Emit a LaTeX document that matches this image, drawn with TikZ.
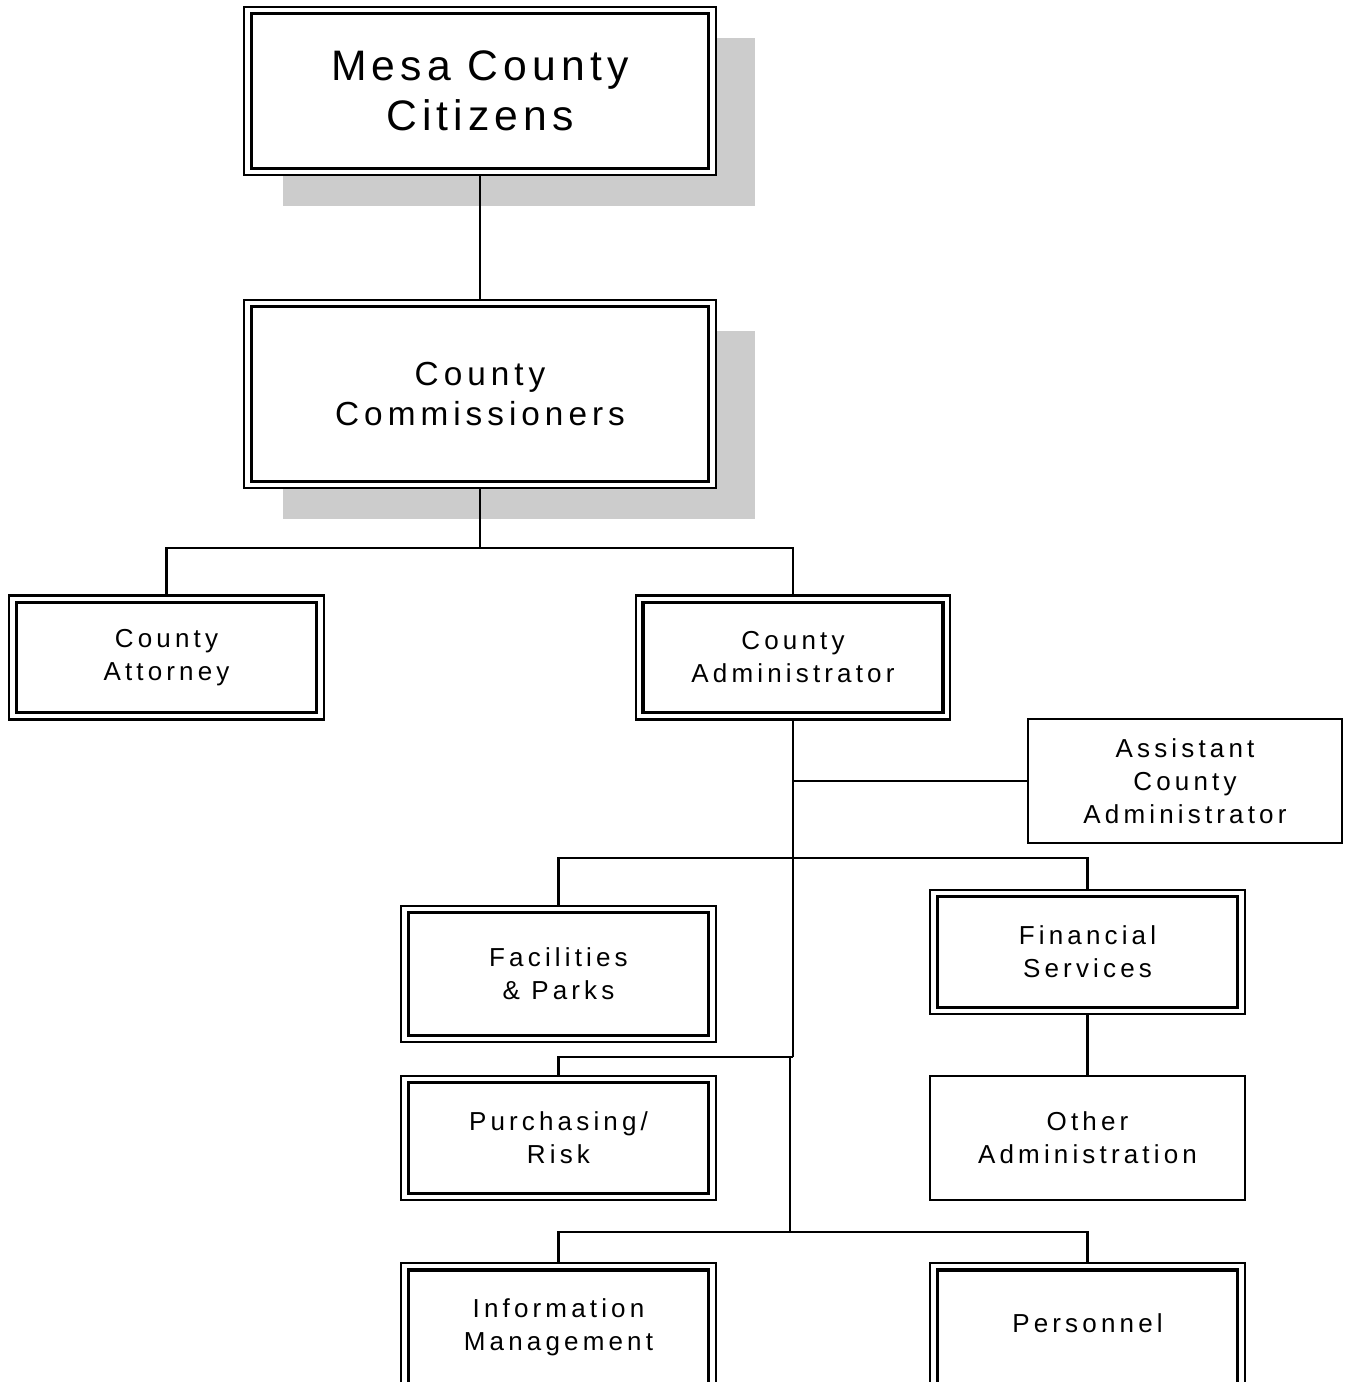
\documentclass[tikz,border=0pt]{standalone}
\usepackage{fontspec}
\newfontfamily\orgfontS[LetterSpace=16]{Liberation Sans}
\newfontfamily\orgfontM[LetterSpace=15]{Liberation Sans}
\newfontfamily\orgfontL[LetterSpace=12]{Liberation Sans}
\usetikzlibrary{shadows}
\begin{document}
\begin{tikzpicture}[x=0.75pt,y=-0.75pt,
  conn/.style={line width=2.1pt},
  basebox/.style={draw, fill=white, line width=1.6pt, inner sep=0pt, align=center},
  dbox/.style={basebox,
    path picture={\draw[line width=2.3pt]
      ([xshift=5.5pt,yshift=-5.2pt]path picture bounding box.north west) rectangle
      ([xshift=-5.5pt,yshift=5.2pt]path picture bounding box.south east);}},
  sbox/.style={basebox},
  smallbox/.style={minimum width=236pt, minimum height=93pt,
    font=\orgfontS\fontsize{19.5pt}{24.75pt}\selectfont},
  tallbox/.style={smallbox, minimum height=120pt, anchor=north},
  shade/.style={drop shadow={shadow xshift=29pt, shadow yshift=-23pt, fill=black!20, opacity=1}},
]
\useasboundingbox (0,0) rectangle (1348,1382);

% top boxes
\node[dbox, shade, minimum width=354pt, minimum height=126pt,
  font=\orgfontL\fontsize{32pt}{37.5pt}\selectfont] (cit) at (480,91) {Mesa County\\Citizens};
\node[dbox, shade, minimum width=354pt, minimum height=141pt,
  font=\orgfontM\fontsize{25pt}{30pt}\selectfont] (com) at (480,394) {County\\Commissioners};

\node[dbox, smallbox] (att) at (166.5,657.5) {County\\Attorney};
\node[dbox, smallbox] (adm) at (793,657.5) {County\\Administrator};
\node[sbox, smallbox] (asst) at (1185,781) {Assistant\\County\\Administrator};
\node[dbox, smallbox, minimum height=102pt] (fac) at (558.5,974) {Facilities\\\& Parks};
\node[dbox, smallbox] (fin) at (1087.5,952) {Financial\\Services};
\node[dbox, smallbox] (pur) at (558.5,1138) {Purchasing/\\Risk};
\node[sbox, smallbox] (oth) at (1087.5,1138) {Other\\Administration};
\node[dbox, tallbox] (inf) at (558.5,1262) {Information\\Management\\[3.5pt]\mbox{}};
\node[dbox, tallbox] (per) at (1087.5,1262) {Personnel\\[5pt]\mbox{}};

% junctions
\coordinate (j1) at (480,548);
\coordinate (j2) at (793,858);
\coordinate (j3) at (793,1057);
\coordinate (j3b) at (790,1057);
\coordinate (j4) at (790,1232);

% connectors
\draw[conn] (cit.south) -- (com.north);
\draw[conn] (com.south) -- (j1);
\draw[conn] (att.north) |- (j1) -| (adm.north);
\draw[conn] (adm.south) -- (j3);
\draw[conn] (asst.west) -- (adm.south |- asst.west);
\draw[conn] (fac.north) |- (j2) -| (fin.north);
\draw[conn] (j3) -| (pur.north);
\draw[conn] (j3b) -- (j4);
\draw[conn] (inf.north) |- (j4) -| (per.north);
\draw[conn] (fin.south) -- (oth.north);
\end{tikzpicture}
\end{document}
